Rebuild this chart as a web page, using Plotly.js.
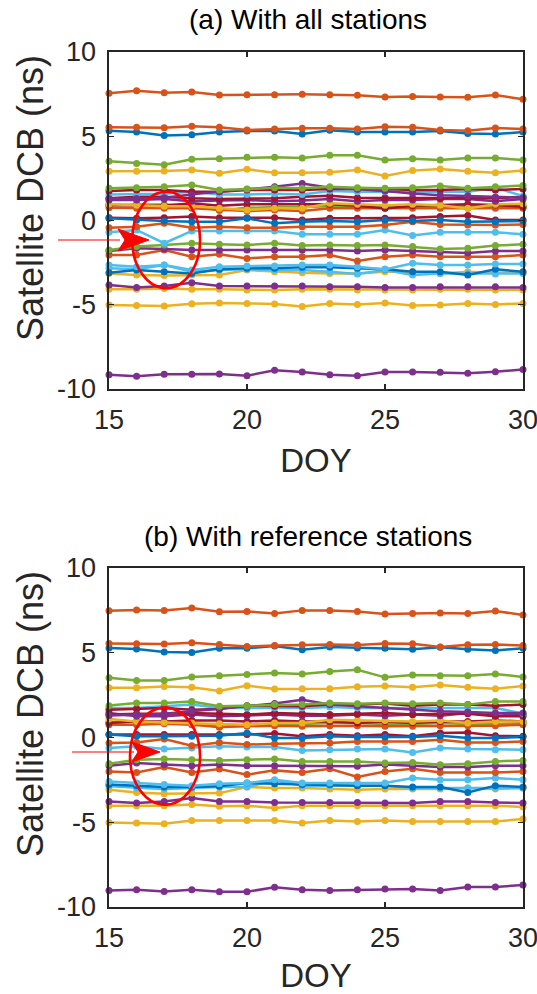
<!DOCTYPE html>
<html>
<head>
<meta charset="utf-8">
<script src="https://cdn.plot.ly/plotly-3.0.1.min.js"></script>
<style>html,body{margin:0;padding:0;background:#fff;}#chart{width:537px;height:994px;}</style>
</head>
<body>
<div id="chart"></div>
<script>
// ---- data ----
const doy = [15,16,17,18,19,20,21,22,23,24,25,26,27,28,29,30];
const xTicks = [15,20,25,30];
const xTickText = ['15','20','25','30'];
const yTicks = [-10,-5,0,5,10];
const yTickText = ['-10','-5','0','5','10'];
const titleA = "(a) With all stations";
const titleB = "(b) With reference stations";
const xLabel = "DOY";
const yLabel = "Satellite DCB (ns)";

// (a) With all stations
const a_O1 = [7.55,7.70,7.58,7.63,7.45,7.47,7.47,7.49,7.47,7.43,7.33,7.36,7.33,7.31,7.45,7.19];
const a_O2 = [5.53,5.53,5.51,5.59,5.53,5.37,5.43,5.47,5.47,5.43,5.57,5.53,5.37,5.33,5.49,5.43];
const a_B1 = [5.33,5.25,5.05,5.09,5.25,5.31,5.31,5.13,5.35,5.25,5.25,5.25,5.31,5.17,5.13,5.25];
const a_G1 = [3.51,3.39,3.31,3.63,3.67,3.75,3.75,3.71,3.87,3.87,3.59,3.67,3.59,3.71,3.71,3.59];
const a_Y1 = [2.92,2.92,2.94,3.00,2.80,3.04,2.84,2.84,2.86,3.00,2.64,2.96,3.06,2.92,2.84,2.96];
const a_G2 = [1.91,1.95,2.01,2.11,1.81,1.87,1.95,1.91,2.01,1.95,1.91,1.95,2.05,1.91,2.01,2.07];
const a_P1 = [1.30,1.30,1.35,1.55,1.70,1.85,2.00,2.20,1.95,1.85,1.75,1.60,1.50,1.45,1.40,1.35];
const a_D1 = [1.75,1.81,1.81,1.71,1.71,1.81,1.81,1.81,1.87,1.87,1.87,1.81,1.81,1.87,1.81,1.87];
const a_L1 = [1.55,1.55,1.59,1.71,1.55,1.55,1.59,1.55,1.75,1.71,1.71,1.71,1.71,1.71,1.95,1.45];
const a_D2 = [1.32,1.41,1.41,1.32,1.28,1.32,1.32,1.41,1.47,1.35,1.35,1.32,1.32,1.35,1.32,1.41];
const a_P2 = [1.22,1.22,1.28,1.14,1.18,1.22,1.14,1.18,1.28,1.14,1.22,1.22,1.28,1.28,1.14,1.28];
const a_Y2 = [0.96,0.90,0.84,0.84,0.72,0.62,0.72,0.72,1.02,0.96,0.90,0.96,0.90,0.72,0.96,1.00];
const a_D3 = [0.92,0.92,0.88,1.02,0.88,0.96,0.96,0.92,0.96,0.88,0.72,0.88,0.92,0.96,0.92,0.82];
const a_O3 = [0.76,0.72,0.72,0.72,0.62,0.56,0.62,0.56,0.72,0.72,0.72,0.72,0.72,0.72,0.72,0.72];
const a_G3 = [0.90,0.95,0.95,0.90,0.60,0.75,0.80,0.80,0.85,0.85,0.80,0.80,0.85,0.85,0.80,0.85];
const a_B2 = [0.13,0.03,-0.03,-0.07,-0.07,0.13,-0.17,-0.07,-0.03,-0.07,0.03,-0.03,0.03,-0.07,-0.07,-0.03];
const a_D4 = [0.17,0.13,0.17,0.23,0.17,0.17,0.17,0.03,0.13,0.13,0.13,0.17,0.23,0.29,0.03,0.03];
const a_O4 = [-0.43,-0.37,-0.17,-0.43,-0.37,-0.43,-0.43,-0.37,-0.37,-0.37,-0.27,-0.07,-0.23,-0.27,-0.27,-0.23];
const a_L2 = [-0.70,-0.56,-1.35,-0.62,-0.62,-0.62,-0.62,-0.82,-0.82,-0.82,-0.56,-0.89,-0.70,-0.70,-0.70,-0.82];
const a_G4 = [-1.75,-1.55,-1.45,-1.35,-1.41,-1.45,-1.35,-1.49,-1.45,-1.49,-1.45,-1.55,-1.69,-1.65,-1.49,-1.41];
const a_P3 = [-1.81,-1.65,-1.69,-1.75,-1.75,-1.75,-1.75,-1.75,-1.75,-1.81,-1.75,-1.81,-1.87,-1.93,-1.81,-1.81];
const a_O5 = [-2.05,-2.05,-1.75,-2.15,-2.01,-2.25,-2.15,-2.15,-2.05,-2.40,-2.15,-2.05,-2.15,-2.15,-2.15,-2.05];
const a_L3 = [-2.64,-2.74,-2.64,-2.94,-2.74,-2.70,-2.70,-2.64,-2.64,-2.74,-2.90,-2.54,-2.64,-2.64,-2.58,-2.58];
const a_B3 = [-3.10,-2.94,-3.04,-3.14,-2.90,-2.84,-2.84,-2.78,-2.78,-2.84,-2.90,-3.04,-3.04,-3.23,-2.90,-3.04];
const a_L4 = [-2.84,-2.90,-2.64,-3.04,-2.94,-2.90,-2.94,-2.94,-3.04,-3.17,-2.94,-3.23,-3.14,-3.14,-3.17,-3.14];
const a_Y3 = [-3.14,-3.23,-3.27,-3.23,-3.23,-2.94,-3.04,-3.10,-3.14,-3.14,-3.04,-3.04,-3.14,-3.04,-3.10,-3.04];
const a_P4 = [-3.83,-3.97,-3.89,-3.69,-3.89,-3.89,-3.89,-3.89,-3.93,-3.93,-3.97,-3.97,-3.93,-3.93,-3.93,-3.97];
const a_Y4 = [-4.08,-4.08,-4.03,-4.08,-4.08,-4.12,-4.12,-4.08,-4.08,-4.12,-4.12,-4.12,-4.08,-4.08,-4.12,-4.12];
const a_Y5 = [-5.01,-5.05,-5.07,-4.94,-4.90,-4.92,-4.96,-5.11,-4.92,-4.98,-4.90,-5.05,-5.01,-4.92,-4.98,-4.92];
const a_P5 = [-9.15,-9.25,-9.13,-9.13,-9.11,-9.21,-8.89,-8.99,-9.15,-9.21,-8.99,-8.99,-9.01,-9.07,-8.97,-8.85];

// (b) With reference stations
const b_O1 = [7.48,7.52,7.50,7.64,7.42,7.44,7.32,7.50,7.50,7.44,7.29,7.32,7.35,7.31,7.46,7.23];
const b_O2 = [5.55,5.53,5.52,5.59,5.49,5.37,5.43,5.47,5.49,5.45,5.55,5.53,5.34,5.47,5.49,5.43];
const b_B1 = [5.28,5.22,5.04,5.02,5.26,5.26,5.40,5.18,5.34,5.28,5.26,5.20,5.32,5.20,5.14,5.26];
const b_G1 = [3.53,3.37,3.37,3.57,3.65,3.72,3.80,3.75,3.90,4.00,3.55,3.69,3.65,3.65,3.75,3.57];
const b_Y1 = [2.94,2.94,3.01,2.96,2.74,3.06,2.86,2.88,2.88,3.00,3.04,2.96,3.10,2.96,2.88,3.04];
const b_G2 = [1.88,2.03,2.03,2.13,1.84,1.88,1.94,1.94,2.03,1.99,2.03,1.99,2.03,1.94,2.13,2.13];
const b_P1 = [1.30,1.35,1.40,1.55,1.70,1.85,2.00,2.23,1.95,1.85,1.75,1.65,1.55,1.50,1.45,1.45];
const b_D1 = [1.64,1.68,1.74,1.64,1.68,1.88,1.84,1.84,1.94,1.94,2.00,1.88,1.94,1.94,1.88,1.94];
const b_L1 = [1.74,1.74,1.84,1.94,1.74,1.74,1.74,1.74,1.80,1.74,1.74,1.74,1.74,1.74,1.74,1.42];
const b_D2 = [1.35,1.40,1.40,1.44,1.40,1.35,1.44,1.40,1.35,1.40,1.44,1.35,1.40,1.40,1.25,1.25];
const b_P2 = [1.44,1.25,1.25,1.35,1.25,1.29,1.35,1.29,1.29,1.35,1.29,1.35,1.29,1.44,1.29,1.35];
const b_Y2 = [1.09,0.95,0.89,0.85,0.81,0.75,0.85,0.85,1.05,1.01,1.01,0.95,1.01,0.85,0.95,0.95];
const b_D3 = [0.85,0.95,0.95,1.01,1.01,0.95,1.01,0.95,0.95,0.85,0.95,0.85,0.95,0.95,1.01,0.95];
const b_O3 = [0.75,0.75,0.81,0.75,0.62,0.66,0.70,0.66,0.70,0.70,0.66,0.66,0.70,0.70,0.70,0.75];
const b_G3 = [0.90,0.95,0.90,0.85,0.60,0.75,0.80,0.80,0.85,0.85,0.80,0.80,0.85,0.80,0.80,0.85];
const b_B2 = [0.17,0.07,0.07,0.07,0.11,0.26,-0.03,-0.03,0.07,0.03,0.03,0.03,0.11,-0.03,-0.03,0.03];
const b_D4 = [0.17,0.17,0.17,0.17,0.17,0.17,0.23,0.07,0.17,0.11,0.17,0.07,0.26,0.30,0.11,0.07];
const b_O4 = [-0.33,-0.29,-0.09,-0.48,-0.29,-0.42,-0.37,-0.37,-0.33,-0.23,-0.23,-0.23,-0.13,-0.29,-0.29,-0.23];
const b_L2 = [-0.62,-0.52,-0.68,-0.62,-0.52,-0.56,-0.56,-0.76,-0.72,-0.68,-0.68,-0.88,-0.62,-0.68,-0.72,-0.72];
const b_G4 = [-1.55,-1.31,-1.27,-1.31,-1.35,-1.31,-1.27,-1.41,-1.41,-1.41,-1.51,-1.47,-1.61,-1.55,-1.41,-1.35];
const b_P3 = [-1.66,-1.51,-1.60,-1.66,-1.60,-1.66,-1.66,-1.66,-1.66,-1.70,-1.60,-1.66,-1.74,-1.74,-1.66,-1.66];
const b_O5 = [-2.00,-2.06,-1.74,-2.06,-1.86,-2.19,-1.94,-2.06,-1.84,-2.33,-2.00,-1.84,-2.06,-2.06,-2.06,-2.00];
const b_L3 = [-2.59,-2.69,-2.78,-2.84,-2.73,-2.69,-2.49,-2.69,-2.69,-2.69,-2.69,-2.39,-2.49,-2.49,-2.39,-2.49];
const b_B3 = [-2.78,-2.84,-2.92,-2.92,-2.88,-2.69,-2.73,-2.78,-2.78,-2.84,-2.84,-2.92,-2.92,-3.24,-2.84,-2.92];
const b_L4 = [-2.88,-2.98,-3.04,-2.98,-2.92,-2.92,-2.53,-2.84,-2.84,-2.84,-2.84,-2.98,-2.98,-2.98,-2.98,-2.98];
const b_Y3 = [-3.08,-3.24,-3.32,-3.28,-3.28,-2.92,-2.98,-2.98,-3.04,-3.08,-3.04,-3.04,-3.04,-2.98,-3.04,-2.98];
const b_P4 = [-3.77,-3.87,-3.77,-3.57,-3.77,-3.77,-3.83,-3.83,-3.83,-3.83,-3.87,-3.87,-3.77,-3.77,-3.83,-3.87];
const b_Y4 = [-4.02,-4.02,-4.02,-3.96,-4.06,-4.02,-4.16,-4.02,-4.02,-4.02,-4.02,-4.02,-4.02,-4.02,-4.02,-4.10];
const b_Y5 = [-5.01,-5.05,-5.09,-4.89,-4.89,-4.89,-4.89,-5.05,-4.89,-4.95,-4.89,-4.95,-4.95,-4.95,-4.95,-4.81];
const b_P5 = [-9.02,-8.98,-9.08,-8.98,-9.10,-9.10,-8.84,-8.98,-9.02,-8.98,-8.94,-8.94,-9.02,-8.82,-8.82,-8.70];

const seriesA = [a_P5,a_Y5,a_Y4,a_P4,a_Y3,a_L4,a_B3,a_L3,a_O5,a_P3,a_G4,a_L2,a_O4,a_D4,a_B2,a_G3,a_O3,a_D3,a_Y2,a_P2,a_D2,a_L1,a_D1,a_P1,a_G2,a_Y1,a_G1,a_B1,a_O2,a_O1];
const seriesB = [b_P5,b_Y5,b_Y4,b_P4,b_Y3,b_L4,b_B3,b_L3,b_O5,b_P3,b_G4,b_L2,b_O4,b_D4,b_B2,b_G3,b_O3,b_D3,b_Y2,b_P2,b_D2,b_L1,b_D1,b_P1,b_G2,b_Y1,b_G1,b_B1,b_O2,b_O1];

// ---- styles ----
const C = {B:'#0072BD',O:'#D95319',Y:'#EDB120',P:'#7E2F8E',G:'#77AC30',L:'#4DBEEE',D:'#A2142F'};
const colorKeys = ['P','Y','Y','P','Y','L','B','L','O','P','G','L','O','D','B','G','O','D','Y','P','D','L','D','P','G','Y','G','B','O','O'];
const FONT = 'Arial, "Liberation Sans", Helvetica, sans-serif';
const INK = '#262626';

const traces = [];
function addSeries(list, xa, ya) {
  list.forEach((vals, i) => {
    traces.push({
      x: doy, y: vals, xaxis: xa, yaxis: ya, type: 'scatter', mode: 'lines+markers',
      line: {color: C[colorKeys[i]], width: 2.5},
      marker: {color: C[colorKeys[i]], size: 7},
      cliponaxis: false, showlegend: false, hoverinfo: 'skip'
    });
  });
}
addSeries(seriesA, 'x', 'y');
addSeries(seriesB, 'x2', 'y2');

// page geometry helpers (pixels -> paper)
const M = {l: 109, r: 14, t: 52, b: 87};
const W = 537 - M.l - M.r, H = 994 - M.t - M.b;
const px = v => (v - M.l) / W;
const py = v => 1 - (v - M.t) / H;

function xAxis(anchor) {
  return {
    anchor: anchor, range: [15, 30], tickvals: xTicks, ticktext: xTickText, ticks: 'inside', ticklen: 5, tickwidth: 1.3,
    tickcolor: INK, showline: true, linecolor: INK, linewidth: 1.6, mirror: 'ticks',
    showgrid: false, zeroline: false, tickfont: {family: FONT, size: 27, color: INK},
    ticklabelstandoff: 6, ticklabeloverflow: 'allow',
    title: {text: xLabel, font: {family: FONT, size: 33, color: INK}, standoff: 15}
  };
}
function yAxis(anchor, domain) {
  return {
    anchor: anchor, domain: domain, range: [-10, 10], tickvals: yTicks, ticktext: yTickText, ticks: 'inside', ticklen: 5, tickwidth: 1.3,
    tickcolor: INK, showline: true, linecolor: INK, linewidth: 1.6, mirror: 'ticks',
    showgrid: false, zeroline: false, tickfont: {family: FONT, size: 27, color: INK},
    ticklabelstandoff: 6, ticklabeloverflow: 'allow'
  };
}

function arrow(x0, x1, xb, xn, yc, hh) {
  // thin line + barbed head, page pixels converted to paper units
  return [
    {type: 'line', xref: 'paper', yref: 'paper', x0: px(x0), x1: px(xb + 2), y0: py(yc), y1: py(yc),
     line: {color: '#FF0000', width: 1.2}},
    {type: 'path', xref: 'paper', yref: 'paper',
     path: `M ${px(x1)} ${py(yc)} L ${px(xb)} ${py(yc - hh)} L ${px(xn)} ${py(yc)} L ${px(xb)} ${py(yc + hh)} Z`,
     fillcolor: '#FF0000', line: {color: '#FF0000', width: 1}}
  ];
}

const layout = {
  width: 537, height: 994, margin: M, paper_bgcolor: '#fff', plot_bgcolor: '#fff',
  font: {family: FONT, color: INK},
  xaxis: xAxis('y'), yaxis: yAxis('x', [1 - 337 / H, 1]),
  xaxis2: xAxis('y2'), yaxis2: yAxis('x2', [0, 339 / H]),
  annotations: [
    {text: titleA, xref: 'paper', yref: 'paper', x: px(308), y: py(20), showarrow: false,
     xanchor: 'center', yanchor: 'middle', font: {family: FONT, size: 28, color: '#000'}},
    {text: titleB, xref: 'paper', yref: 'paper', x: px(308), y: py(536), showarrow: false,
     xanchor: 'center', yanchor: 'middle', font: {family: FONT, size: 28, color: '#000'}},
    {text: yLabel, xref: 'paper', yref: 'paper', x: px(30), y: py(198), showarrow: false, textangle: -90,
     xanchor: 'center', yanchor: 'middle', font: {family: FONT, size: 36, color: INK}},
    {text: yLabel, xref: 'paper', yref: 'paper', x: px(30), y: py(714), showarrow: false, textangle: -90,
     xanchor: 'center', yanchor: 'middle', font: {family: FONT, size: 36, color: INK}}
  ],
  shapes: [
    {type: 'circle', xref: 'x', yref: 'y', x0: 15.84, x1: 18.30, y0: -4.02, y1: 1.71,
     line: {color: '#FF0000', width: 2.6}},
    {type: 'circle', xref: 'x2', yref: 'y2', x0: 15.76, x1: 18.30, y0: -3.96, y1: 1.76,
     line: {color: '#FF0000', width: 2.6}},
    ...arrow(58, 149, 118, 125, 240, 11),
    ...arrow(72, 160, 132, 138, 752, 10)
  ]
};

Plotly.newPlot('chart', traces, layout, {staticPlot: true, displayModeBar: false});
</script>
</body>
</html>
